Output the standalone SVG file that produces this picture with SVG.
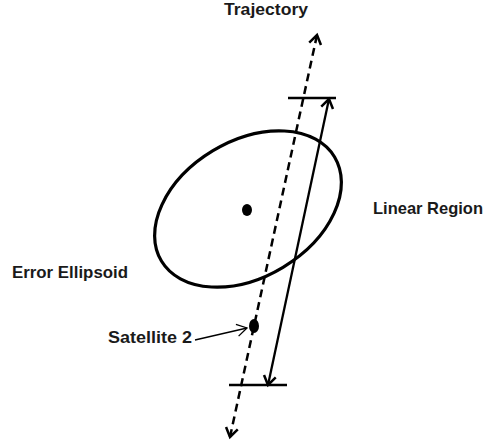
<svg xmlns="http://www.w3.org/2000/svg" width="490" height="444" viewBox="0 0 490 444">
<style>
.lbl{font-family:"Liberation Sans",Arial,sans-serif;font-weight:bold;font-size:17px;fill:#1a1a1a}
.ln{stroke:#000;fill:none}
</style>
<defs>
<marker id="v" markerUnits="userSpaceOnUse" markerWidth="20" markerHeight="20" refX="0" refY="0" viewBox="-12 -10 14 20" orient="auto-start-reverse">
<path d="M-9,-6 L0,0 L-9,6" fill="none" stroke="#000" stroke-width="2.5"/>
</marker>
<marker id="vs" markerUnits="userSpaceOnUse" markerWidth="20" markerHeight="20" refX="0" refY="0" viewBox="-12 -10 14 20" orient="auto">
<path d="M-10,-6 L0,0 L-10,6" fill="none" stroke="#000" stroke-width="1.3"/>
</marker>
</defs>
<g id="ellipsoid">
<ellipse cx="248" cy="209" rx="101" ry="68" transform="rotate(-31 248 209)" class="ln" stroke-width="3.2"/>
<ellipse cx="247" cy="210" rx="5" ry="6" fill="#000"/>
</g>
<g id="satellite2">
<ellipse cx="254" cy="326" rx="5" ry="7" fill="#000"/>
</g>
<g id="connectors">
<line x1="230" y1="437" x2="317" y2="35" class="ln" stroke-width="2.5" stroke-dasharray="8,5" marker-start="url(#v)" marker-end="url(#v)"/>
<line x1="268" y1="385" x2="329" y2="99" class="ln" stroke-width="2.3" marker-start="url(#v)" marker-end="url(#v)"/>
<line x1="288" y1="98" x2="336" y2="98" class="ln" stroke-width="2.5"/>
<line x1="229" y1="385" x2="287" y2="385" class="ln" stroke-width="2.5"/>
<line x1="195" y1="340" x2="247" y2="328" class="ln" stroke-width="1.3" marker-end="url(#vs)"/>
</g>
<g id="labels">
<text class="lbl" x="224" y="15" textLength="84" lengthAdjust="spacingAndGlyphs">Trajectory</text>
<text class="lbl" x="373" y="214" textLength="110" lengthAdjust="spacingAndGlyphs">Linear Region</text>
<text class="lbl" x="12" y="278" textLength="116" lengthAdjust="spacingAndGlyphs">Error Ellipsoid</text>
<text class="lbl" x="108" y="343" textLength="84" lengthAdjust="spacingAndGlyphs">Satellite 2</text>
</g>
</svg>
